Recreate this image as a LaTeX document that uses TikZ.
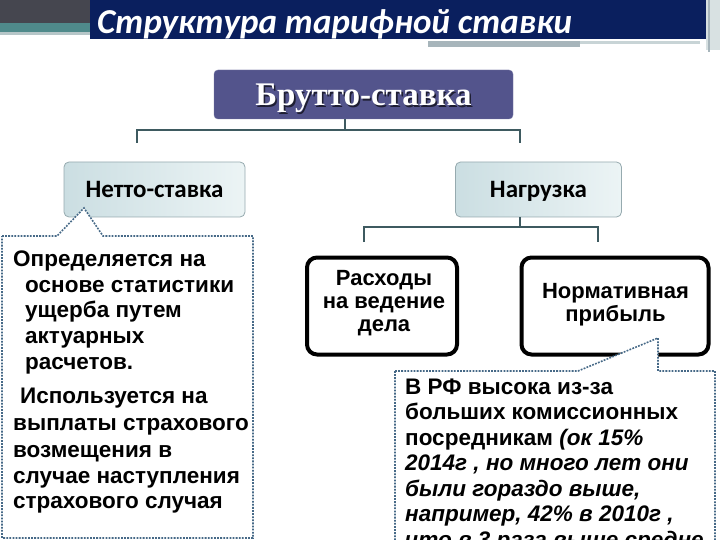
\documentclass[tikz,border=0pt]{standalone}
\usepackage{fontspec}
\setmainfont{Liberation Sans}
\newfontfamily\calfont{Carlito}
\newfontfamily\serfont{Liberation Serif}
\definecolor{navy}{RGB}{10,31,94}
\definecolor{hdrgray}{RGB}{69,70,79}
\definecolor{hdrteal}{RGB}{79,138,139}
\definecolor{hdrlight}{RGB}{182,198,200}
\definecolor{barg}{RGB}{167,181,187}
\definecolor{barl}{RGB}{200,212,214}
\definecolor{bruttofill}{RGB}{83,84,140}
\definecolor{bshadow}{RGB}{30,30,50}
\definecolor{conncol}{RGB}{62,90,96}
\definecolor{nettoA}{RGB}{203,222,226}
\definecolor{nettoB}{RGB}{236,244,245}
\definecolor{nettoline}{RGB}{150,170,175}
\definecolor{dotcol}{RGB}{70,105,135}
\begin{document}
\begin{tikzpicture}[x=1pt,y=-1pt,
  conn/.style={draw=conncol,line width=2.2pt},
  lightbox/.style={draw=nettoline,line width=0.8pt,rounded corners=5pt,left color=nettoA,right color=nettoB,
     minimum width=181pt,minimum height=55pt,inner sep=0pt,text height=16pt,text depth=0pt,
     font=\calfont\bfseries\fontsize{25}{27}\selectfont},
  thickbox/.style={draw=black,line width=4pt,rounded corners=10pt,fill=white,inner sep=0pt},
  boxline/.style={inner sep=0pt,anchor=base,font=\bfseries\fontsize{22}{24}\selectfont},
  ctext/.style={inner sep=0pt,anchor=base west,font=\bfseries\fontsize{22.5}{24}\selectfont},
  callout/.style={draw=dotcol,line width=1.6pt,dash pattern=on 1.8pt off 1.3pt,fill=white}
]
\useasboundingbox (0,0) rectangle (720,540);
% header
\fill[hdrgray] (0,0) rectangle (90,23);
\fill[hdrteal] (0,23) rectangle (90,32);
\fill[hdrlight] (0,32) rectangle (90,35);
\fill[navy] (90,0) rectangle (706,39);
\fill[barg] (428,41) rectangle (580,47);
\fill[barl] (580,41) rectangle (700,44);
\fill[barl!70!white] (706,0) rectangle (720,50);
\draw[barg,line width=1.2pt] (709,0) -- (709,52);
\node[inner sep=0pt,anchor=base west,text=white,font=\calfont\bfseries\itshape\fontsize{35}{38}\selectfont] (title) at (97,34) {Структура тарифной ставки};
% Brutto box
\node[fill=bruttofill,draw=bruttofill!80!white,rounded corners=4pt,minimum width=299pt,minimum height=49pt,inner sep=0pt,
  text height=22pt,text depth=0pt,text=white,font=\serfont\bfseries\fontsize{33}{35}\selectfont] (brutto) at (363.5,94.5)
  {\makebox[0pt][l]{\hspace{1.6pt}\raisebox{-1.6pt}{\color{bshadow}Брутто-ставка}}Брутто-ставка};
% level 2 boxes
\node[lightbox] (netto) at (154.5,189.5) {Нетто-ставка};
\node[lightbox,minimum width=166pt] (nagr) at (538.5,189.5) {Нагрузка};
% connectors from Brutto
\coordinate (bj) at (345,130);
\coordinate (tl) at (137,143);
\coordinate (tr) at (520,143);
\draw[conn] (brutto.south -| bj) -- (bj);
\draw[conn] (tl) |- (bj) -| (tr);
% level 3 boxes
\node[thickbox,minimum width=150pt,minimum height=97pt] (exp) at (382,306) {};
\node[thickbox,minimum width=187pt,minimum height=97pt] (norm) at (615,306) {};
\node[boxline] (e1) at (384,285) {Расходы};
\node[boxline] (e2) at (384,308) {на ведение};
\node[boxline] (e3) at (384,331) {дела};
\node[boxline] (n1) at (615.5,298) {Нормативная};
\node[boxline] (n2) at (615.5,321) {прибыль};
% connectors from Nagruzka
\coordinate (nj) at (520,227);
\coordinate (sl) at (364,242);
\coordinate (sr) at (598,242);
\draw[conn] (nagr.south -| nj) -- (nj);
\draw[conn] (sl) |- (nj) -| (sr);
% left callout
\draw[callout] (2,236) -- (57,236) -- (84,208) -- (103,236) -- (253,236) -- (253,538) -- (2,538) -- cycle;
\node[ctext] (l1) at (13,266) {Определяется на};
\node[ctext] (l2) at (25,292) {основе статистики};
\node[ctext] (l3) at (25,317) {ущерба путем};
\node[ctext] (l4) at (25,343) {актуарных};
\node[ctext] (l5) at (25,369) {расчетов.};
\node[ctext] (l6) at (20,403) {Используется на};
\node[ctext] (l7) at (13,430) {выплаты страхового};
\node[ctext] (l8) at (13,457) {возмещения в};
\node[ctext] (l9) at (13,483) {случае наступления};
\node[ctext] (l10) at (13,508) {страхового случая};
% right callout
\draw[callout] (395,371) -- (578,371) -- (658,338) -- (658,371) -- (715,371) -- (715,570) -- (395,570) -- cycle;
\node[ctext] (r1) at (405,394) {В РФ высока из-за};
\node[ctext] (r2) at (405,419.5) {больших комиссионных};
\node[ctext] (r3) at (405,445) {посредникам \itshape(ок 15\%};
\node[ctext] (r4) at (405,470.5) {\itshape 2014г , но много лет они};
\node[ctext] (r5) at (405,496) {\itshape были гораздо выше,};
\node[ctext] (r6) at (405,521) {\itshape например, 42\% в 2010г ,};
\node[ctext] (r7) at (405,547) {\itshape что в 3 раза выше средне};
\end{tikzpicture}
\end{document}
